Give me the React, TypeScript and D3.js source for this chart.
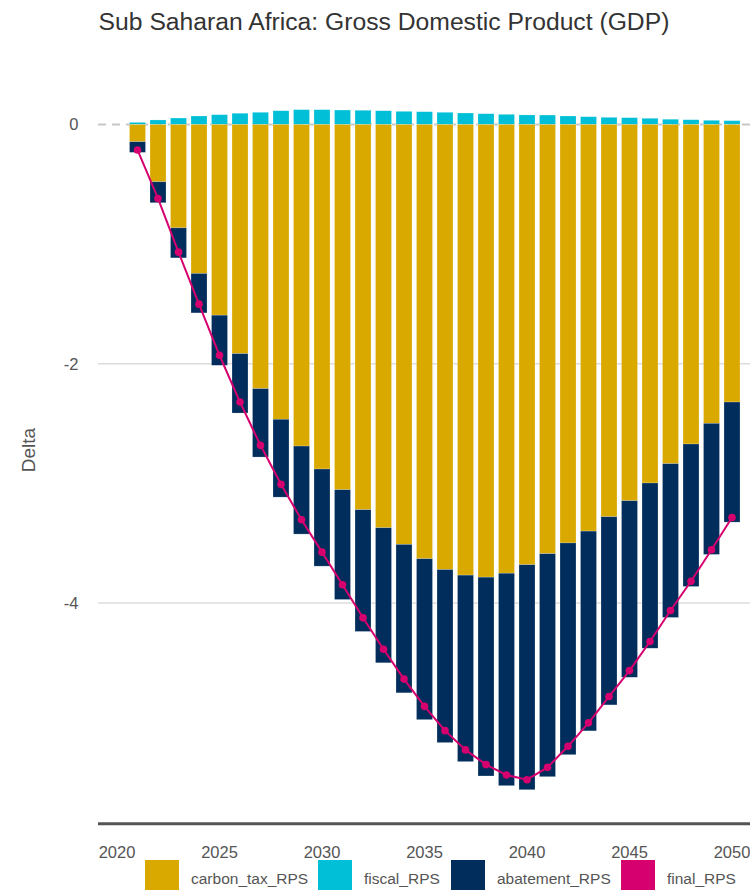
import React from "react";
import * as d3 from "d3";

const years = [2021, 2022, 2023, 2024, 2025, 2026, 2027, 2028, 2029, 2030, 2031, 2032, 2033, 2034, 2035, 2036, 2037, 2038, 2039, 2040, 2041, 2042, 2043, 2044, 2045, 2046, 2047, 2048, 2049, 2050];
const carbonTax = [-0.144, -0.479, -0.864, -1.245, -1.594, -1.915, -2.208, -2.464, -2.688, -2.88, -3.053, -3.22, -3.371, -3.51, -3.63, -3.72, -3.767, -3.784, -3.751, -3.68, -3.588, -3.498, -3.399, -3.279, -3.145, -2.997, -2.835, -2.671, -2.498, -2.32];
const fiscal = [0.018, 0.038, 0.054, 0.071, 0.082, 0.094, 0.102, 0.115, 0.124, 0.124, 0.121, 0.119, 0.115, 0.11, 0.107, 0.102, 0.096, 0.09, 0.085, 0.08, 0.079, 0.071, 0.065, 0.06, 0.057, 0.052, 0.044, 0.04, 0.035, 0.032];
const abatement = [-0.089, -0.175, -0.251, -0.33, -0.419, -0.497, -0.572, -0.651, -0.736, -0.812, -0.918, -1.018, -1.129, -1.241, -1.345, -1.447, -1.559, -1.662, -1.776, -1.881, -1.864, -1.77, -1.67, -1.573, -1.476, -1.381, -1.286, -1.191, -1.096, -1.004];
const finalRPS = [-0.213, -0.618, -1.067, -1.502, -1.929, -2.32, -2.682, -3.008, -3.304, -3.575, -3.848, -4.124, -4.387, -4.636, -4.864, -5.067, -5.228, -5.351, -5.438, -5.477, -5.374, -5.198, -5.002, -4.782, -4.565, -4.322, -4.063, -3.818, -3.555, -3.285];

const xTicks = [2020, 2025, 2030, 2035, 2040, 2045, 2050];
const yTicks = [0, -2, -4];
const seriesNames = ["carbon_tax_RPS", "fiscal_RPS", "abatement_RPS", "final_RPS"];
const seriesColors = ["#D9A900", "#00BFD6", "#002D5B", "#D6006E"];

const title = "Sub Saharan Africa: Gross Domestic Product (GDP)";
const yLabel = "Delta";

const W = 750;
const H = 890;
const left = 98;
const right = 750;
const FONT = "'Liberation Sans', Arial, Helvetica, sans-serif";

export default function App() {
  const x = d3.scaleLinear().domain([2019.073, 2050.878]).range([left, right]);
  const y = d3.scaleLinear().domain([-5.845, 0]).range([823.7, 124.5]);
  const barW = 16;

  const line = d3
    .line<number>()
    .x((_, i) => x(years[i]))
    .y((v) => y(v));

  const legendX = [145, 318, 451, 621];

  return (
    <svg
      width={W}
      height={H}
      style={{ position: "absolute", left: 0, top: 0, display: "block", background: "#fff" }}
      fontFamily={FONT}
    >
      <text x={384} y={30} textAnchor="middle" fontSize={24.7} fill="#333">
        {title}
      </text>

      {/* gridlines */}
      {yTicks
        .filter((t) => t !== 0)
        .map((t) => (
          <line key={t} x1={left} x2={right} y1={y(t)} y2={y(t)} stroke="#dcdcdc" strokeWidth={1.5} />
        ))}
      <line x1={left} x2={right} y1={y(0)} y2={y(0)} stroke="#c8c8c8" strokeWidth={2} strokeDasharray="8,6" />

      {/* bars */}
      {years.map((yr, i) => {
        const cx = x(yr) - barW / 2;
        const c = carbonTax[i];
        const a = abatement[i];
        const f = fiscal[i];
        return (
          <g key={yr} stroke="#ffffff" strokeOpacity={0.35} strokeWidth={0.6}>
            <rect x={cx} width={barW} y={y(f)} height={y(0) - y(f)} fill={seriesColors[1]} />
            <rect x={cx} width={barW} y={y(0)} height={y(c) - y(0)} fill={seriesColors[0]} />
            <rect x={cx} width={barW} y={y(c)} height={y(c + a) - y(c)} fill={seriesColors[2]} />
          </g>
        );
      })}

      {/* final line */}
      <path d={line(finalRPS) || ""} fill="none" stroke={seriesColors[3]} strokeWidth={2} />
      {finalRPS.map((v, i) => (
        <circle key={i} cx={x(years[i])} cy={y(v)} r={3.8} fill={seriesColors[3]} />
      ))}

      {/* axis line */}
      <line x1={left} x2={right} y1={823.7} y2={823.7} stroke="#555" strokeWidth={3} />

      {/* x ticks */}
      {xTicks.map((t) => (
        <text key={t} x={x(t)} y={857.5} textAnchor="middle" fontSize={16.5} fill="#555">
          {t}
        </text>
      ))}

      {/* y ticks */}
      {yTicks.map((t) => (
        <text key={t} x={78.5} y={y(t)} dy="0.36em" textAnchor="end" fontSize={16.5} fill="#555">
          {t}
        </text>
      ))}

      <text transform={`translate(35,450) rotate(-90)`} textAnchor="middle" fontSize={19} fill="#555">
        {yLabel}
      </text>

      {/* legend */}
      {seriesNames.map((n, i) => (
        <g key={n}>
          <rect x={legendX[i]} y={860} width={34} height={34} fill={seriesColors[i]} />
          <text x={legendX[i] + 46} y={884} fontSize={15.5} fill="#555">
            {n}
          </text>
        </g>
      ))}
    </svg>
  );
}
